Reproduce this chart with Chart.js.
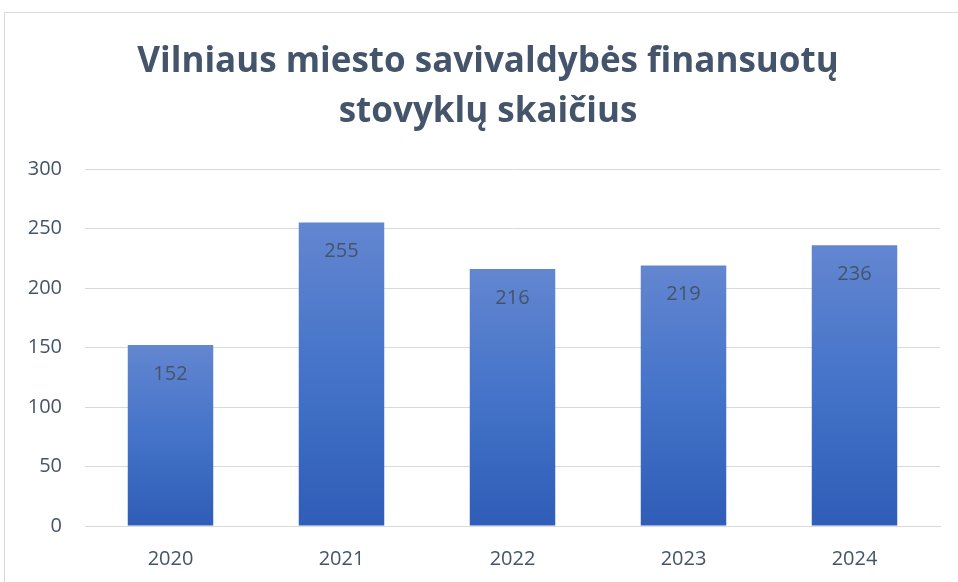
<!DOCTYPE html>
<html>
<head>
<meta charset="utf-8">
<script src="https://cdn.jsdelivr.net/npm/chart.js@4.4.1/dist/chart.umd.min.js"></script>
<style>
  html, body { margin: 0; padding: 0; background: #fff; overflow: hidden; width: 958px; height: 582px; }
  #frame { position: absolute; left: 4px; top: 12px; width: 965px; height: 600px; border: 1px solid #D9D9D9; background: #fff; }
  canvas { display: block; }
</style>
</head>
<body>
<div id="frame"><canvas id="c" width="965" height="600"></canvas></div>
<script>
const titleLines = ["Vilniaus miesto savivaldybės finansuotų", "stovyklų skaičius"];
const categories = ["2020", "2021", "2022", "2023", "2024"];
const values = [152, 255, 216, 219, 236];
const yTicks = [0, 50, 100, 150, 200, 250, 300];

const TEXT = "#44546A";
const FONT = "'Open Sans', sans-serif";

function barGradient(ctx) {
  const chart = ctx.chart;
  const ys = chart.scales.y;
  if (!ys || ctx.parsed === undefined || ctx.parsed === null) return "#4472C4";
  const top = ys.getPixelForValue(ctx.parsed.y);
  const base = ys.getPixelForValue(0);
  if (!isFinite(top) || !isFinite(base) || top === base) return "#4472C4";
  const g = chart.ctx.createLinearGradient(0, top, 0, base);
  g.addColorStop(0, "#6386D0");
  g.addColorStop(0.5, "#4473C9");
  g.addColorStop(1, "#2F5DB7");
  return g;
}

const titlePlugin = {
  id: "titleDraw",
  afterDraw(chart) {
    const c = chart.ctx;
    c.save();
    c.fillStyle = TEXT;
    c.font = "bold 35px " + FONT;
    c.textAlign = "center";
    c.textBaseline = "alphabetic";
    const cx = 483;
    c.fillText(titleLines[0], cx, 59);
    c.fillText(titleLines[1], cx, 109);
    c.restore();
  }
};

const labelPlugin = {
  id: "barLabels",
  afterDatasetsDraw(chart) {
    const c = chart.ctx;
    const meta = chart.getDatasetMeta(0);
    c.save();
    c.fillStyle = TEXT;
    c.font = "20px " + FONT;
    c.textAlign = "center";
    c.textBaseline = "middle";
    meta.data.forEach((bar, i) => {
      c.fillText(String(values[i]), bar.x, bar.y + 29);
    });
    c.restore();
  }
};

new Chart(document.getElementById("c"), {
  type: "bar",
  data: {
    labels: categories,
    datasets: [{
      data: values,
      backgroundColor: barGradient,
      borderWidth: 0,
      categoryPercentage: 1.0,
      barPercentage: 0.5
    }]
  },
  options: {
    responsive: false,
    animation: false,
    devicePixelRatio: 1,
    layout: { padding: { left: 0, right: 30, top: 156, bottom: 0 } },
    plugins: { legend: { display: false }, tooltip: { enabled: false }, title: { display: false } },
    scales: {
      x: {
        grid: { display: false, drawTicks: false },
        border: { display: true, color: "#D9D9D9", width: 1 },
        ticks: { color: TEXT, font: { family: FONT, size: 20 }, padding: 21 },
        afterFit(s) { s.height = 87; }
      },
      y: {
        min: 0, max: 300,
        afterBuildTicks(s) { s.ticks = yTicks.map(v => ({ value: v })); },
        grid: { color: "#D9D9D9", lineWidth: 1, drawTicks: false },
        border: { display: false },
        ticks: { color: TEXT, font: { family: FONT, size: 20 }, padding: 23 },
        afterFit(s) { s.width = 80; }
      }
    }
  },
  plugins: [titlePlugin, labelPlugin]
});
</script>
</body>
</html>
